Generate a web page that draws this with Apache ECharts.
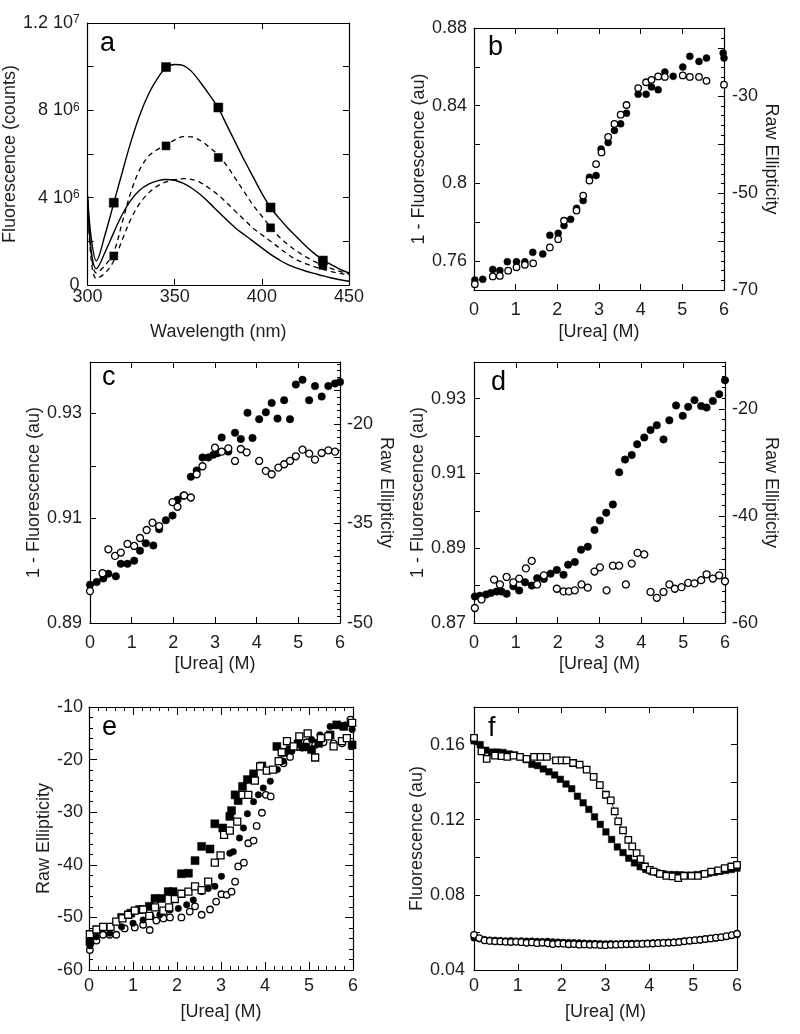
<!DOCTYPE html>
<html>
<head>
<meta charset="utf-8">
<script src="https://cdn.jsdelivr.net/npm/echarts@6/dist/echarts.min.js"></script>
<style>html,body{margin:0;padding:0;background:#fff}#c{width:800px;height:1034px}</style>
</head>
<body>
<div id="c"></div>
<script>
// ---------- Panel a: emission spectra ----------
const aWavelength = [300,302,305,310,315,320,325,330,335,340,345,350,355,360,365,370,375,380,385,390,395,400,405,410,415,420,425,430,435,440,445,450];
const aSolidHigh = [4.1e6,2.2e6,1.1e6,2.3e6,3.75e6,5.2e6,6.6e6,7.8e6,8.75e6,9.45e6,9.95e6,1.01e7,1.005e7,9.75e6,9.25e6,8.7e6,8.1e6,7.3e6,6.5e6,5.7e6,4.95e6,4.2e6,3.55e6,3.05e6,2.6e6,2.2e6,1.8e6,1.45e6,1.15e6,0.92e6,0.72e6,0.55e6];
const aDashHigh = [4.0e6,1.5e6,0.55e6,0.9e6,1.5e6,2.9e6,4.3e6,5.3e6,5.9e6,6.2e6,6.4e6,6.65e6,6.8e6,6.78e6,6.6e6,6.3e6,5.95e6,5.45e6,4.85e6,4.25e6,3.65e6,3.15e6,2.65e6,2.2e6,1.85e6,1.55e6,1.3e6,1.08e6,0.9e6,0.75e6,0.62e6,0.5e6];
const aSolidLow = [3.9e6,1.6e6,0.75e6,1.5e6,2.4e6,3.25e6,3.9e6,4.35e6,4.62e6,4.77e6,4.83e6,4.8e6,4.65e6,4.42e6,4.12e6,3.75e6,3.35e6,2.97e6,2.6e6,2.3e6,2.0e6,1.7e6,1.4e6,1.15e6,0.93e6,0.77e6,0.64e6,0.53e6,0.42e6,0.32e6,0.24e6,0.17e6];
const aDashLow = [3.8e6,1.2e6,0.3e6,0.55e6,1.1e6,2.1e6,3.05e6,3.75e6,4.22e6,4.53e6,4.72e6,4.82e6,4.87e6,4.83e6,4.68e6,4.42e6,4.12e6,3.75e6,3.36e6,2.98e6,2.6e6,2.3e6,2.0e6,1.7e6,1.4e6,1.15e6,0.98e6,0.84e6,0.72e6,0.61e6,0.53e6,0.46e6];
const aMarkX = [315,345,375,405,435];
const aMarkHigh = [3.77e6,9.98e6,8.13e6,3.55e6,1.12e6];
const aMarkLow = [1.33e6,6.37e6,5.84e6,2.62e6,0.9e6];

// ---------- Panel b ----------
const bFillX = [0.02,0.21,0.45,0.62,0.80,1.02,1.22,1.41,1.65,1.82,2.02,2.16,2.32,2.46,2.62,2.77,2.93,3.05,3.22,3.37,3.52,3.66,3.94,4.13,4.26,4.42,4.58,4.78,5.01,5.18,5.40,5.58,5.98,6.0];
const bFillY = [0.7501,0.7505,0.7556,0.7550,0.7596,0.7596,0.7596,0.7644,0.7636,0.7732,0.7742,0.7782,0.7814,0.7871,0.7911,0.8031,0.8040,0.8176,0.8210,0.8272,0.8306,0.8361,0.8459,0.8459,0.8496,0.8482,0.8573,0.8551,0.8599,0.8654,0.8628,0.8645,0.8671,0.8645];
const bOpenX = [0.02,0.45,0.62,0.82,1.02,1.22,1.42,1.82,2.02,2.16,2.46,2.62,2.77,2.93,3.06,3.22,3.37,3.52,3.66,3.94,4.13,4.26,4.42,4.58,5.01,5.18,5.40,5.58,6.0];
const bOpenY = [-68.8,-67.2,-67.1,-66.0,-65.3,-64.8,-64.5,-61.2,-59.5,-55.7,-53.6,-50.5,-47.4,-44.0,-41.6,-38.4,-35.7,-33.8,-31.8,-28.3,-27.1,-26.6,-25.9,-26.0,-25.7,-26.0,-26.0,-26.8,-27.6];

// ---------- Panel c ----------
const cFillX = [0,0.16,0.32,0.44,0.62,0.74,0.90,1.06,1.20,1.34,1.52,1.66,1.82,1.98,2.10,2.24,2.42,2.56,2.70,2.84,2.96,3.06,3.16,3.32,3.48,3.62,3.78,3.90,4.06,4.22,4.36,4.50,4.66,4.80,4.94,5.10,5.26,5.40,5.56,5.72,5.88,6.0];
const cFillY = [0.8973,0.8978,0.8985,0.8994,0.8989,0.9013,0.9013,0.9019,0.9038,0.9052,0.9048,0.9079,0.9096,0.9105,0.9135,0.9143,0.9179,0.9191,0.9216,0.9216,0.9221,0.9224,0.9254,0.9227,0.9263,0.9251,0.9301,0.9253,0.9289,0.9302,0.9320,0.9290,0.9325,0.9289,0.9355,0.9364,0.9325,0.9352,0.9332,0.9352,0.9357,0.9360];
const cOpenX = [0,0.30,0.44,0.60,0.74,0.90,1.06,1.20,1.36,1.50,1.66,1.98,2.10,2.26,2.42,2.56,2.70,3.00,3.16,3.32,3.48,3.62,3.76,4.06,4.22,4.36,4.52,4.66,4.80,4.94,5.10,5.26,5.40,5.56,5.72,5.88];
const cOpenY = [-45.2,-42.5,-38.9,-39.9,-39.4,-38.1,-38.4,-37.2,-36.0,-34.9,-35.4,-31.8,-32.5,-30.8,-31.1,-27.6,-26.4,-23.6,-24.2,-23.7,-25.6,-23.8,-24.3,-25.6,-27.1,-27.6,-26.6,-26.1,-25.6,-24.9,-23.9,-24.5,-25.4,-24.4,-24.0,-24.2];

// ---------- Panel d ----------
const dFillX = [0.02,0.14,0.29,0.40,0.54,0.66,0.78,0.94,1.08,1.22,1.38,1.51,1.67,1.83,1.98,2.14,2.25,2.41,2.56,2.72,2.88,3.01,3.16,3.32,3.47,3.61,3.77,3.90,4.07,4.22,4.37,4.53,4.67,4.83,4.99,5.12,5.27,5.43,5.56,5.71,5.86,6.0];
const dFillY = [0.8771,0.8773,0.8776,0.8780,0.8784,0.8784,0.8778,0.8798,0.8787,0.8809,0.8800,0.8820,0.8818,0.8832,0.8842,0.8829,0.8856,0.8863,0.8896,0.8904,0.8949,0.8974,0.8995,0.9017,0.9103,0.9137,0.9149,0.9178,0.9196,0.9216,0.9229,0.9191,0.9242,0.9282,0.9254,0.9278,0.9296,0.9280,0.9276,0.9294,0.9312,0.9349];
const dOpenX = [0.02,0.18,0.48,0.62,0.78,0.94,1.08,1.24,1.38,1.51,1.67,1.98,2.14,2.27,2.41,2.57,2.72,2.88,3.01,3.17,3.32,3.47,3.63,3.77,3.91,4.07,4.22,4.37,4.53,4.67,4.80,4.96,5.12,5.27,5.43,5.56,5.71,5.86,6.0];
const dOpenY = [-57.2,-55.6,-51.9,-52.8,-51.4,-52.4,-51.7,-49.8,-48.4,-52.8,-51.1,-53.6,-54.1,-54.1,-53.9,-52.8,-53.4,-50.4,-49.6,-53.9,-49.3,-49.3,-52.8,-48.9,-46.9,-47.2,-54.2,-55.3,-54.2,-52.8,-53.6,-53.3,-52.5,-52.6,-52.0,-50.9,-51.7,-51.1,-52.2];

// ---------- Panel e ----------
const eFsqX = [0.02,0.74,0.95,1.15,1.37,1.50,1.65,1.80,1.91,2.10,2.26,2.41,2.56,2.75,2.86,3.04,3.20,3.24,3.32,3.39,3.49,3.60,3.74,3.93,4.27,4.42,4.57,4.75,4.90,5.06,5.22,5.48,5.63,5.79,5.98];
const eFsqY = [-54.6,-50.0,-49.2,-48.5,-47.9,-46.4,-46.4,-45.1,-45.1,-41.7,-41.6,-39.2,-36.5,-37.0,-32.2,-33.0,-30.8,-29.7,-26.7,-27.8,-25.1,-23.8,-22.7,-21.2,-17.5,-18.6,-18.1,-17.0,-17.6,-18.1,-16.9,-15.3,-13.4,-13.7,-17.2];
const eOsqX = [0.02,0.17,0.32,0.49,0.62,0.76,0.89,1.04,1.23,1.37,1.50,1.69,1.82,1.95,2.10,2.26,2.41,2.56,2.71,2.86,2.99,3.07,3.20,3.37,3.49,3.62,3.77,3.89,4.04,4.18,4.31,4.38,4.50,4.65,4.78,4.97,5.14,5.27,5.44,5.56,5.75,5.86,5.98];
const eOsqY = [-53.2,-52.3,-51.8,-51.8,-50.8,-50.2,-49.5,-48.7,-48.5,-49.7,-48.1,-48.7,-48.1,-46.5,-45.5,-45.1,-44.1,-44.8,-43.2,-39.6,-38.2,-34.3,-33.5,-31.8,-26.7,-26.7,-24.0,-21.3,-22.1,-21.9,-20.3,-18.6,-16.5,-17.5,-15.6,-15.0,-19.6,-15.9,-15.6,-17.5,-16.5,-15.9,-13.0];
const eFciX = [0.02,0.17,0.47,0.74,1.00,1.23,1.41,1.61,1.84,2.03,2.22,2.37,2.56,2.71,2.86,3.01,3.20,3.28,3.42,3.51,3.60,3.74,3.85,3.96,4.12,4.28,4.42,4.61,4.84,5.06,5.25,5.48,5.63,5.82,5.98];
const eFciY = [-55.4,-53.7,-53.0,-51.8,-51.1,-50.5,-49.8,-49.5,-48.6,-48.3,-47.6,-46.7,-45.1,-44.5,-44.1,-42.2,-37.8,-37.5,-34.9,-33.0,-30.3,-28.0,-26.7,-25.4,-24.1,-21.9,-20.3,-18.4,-17.8,-16.2,-15.3,-13.7,-13.4,-13.4,-14.3];
const eOciX = [0.02,0.17,0.32,0.47,0.62,0.81,1.04,1.23,1.38,1.53,1.69,1.84,2.10,2.29,2.41,2.56,2.75,2.89,3.01,3.13,3.24,3.32,3.39,3.52,3.62,3.74,3.81,3.93,4.02,4.13,4.42,4.57,4.76,4.95,5.14,5.33,5.56,5.75,5.94];
const eOciY = [-56.2,-54.4,-53.3,-53.3,-53.3,-52.1,-51.9,-51.4,-52.4,-50.6,-50.2,-50.0,-50.0,-48.9,-47.9,-49.5,-48.5,-47.0,-45.6,-45.7,-45.1,-43.2,-40.3,-39.6,-35.9,-35.4,-32.6,-30.1,-26.7,-27.0,-20.7,-19.5,-17.6,-16.7,-17.2,-16.7,-16.9,-16.9,-12.4];

// ---------- Panel f ----------
const fFsqX = [0.0,0.14,0.27,0.40,0.53,0.66,0.80,0.93,1.06,1.19,1.32,1.45,1.58,1.71,1.84,1.97,2.10,2.23,2.36,2.49,2.62,2.75,2.88,3.01,3.14,3.27,3.40,3.53,3.66,3.79,3.92,4.05,4.18,4.31,4.44,4.57,4.70,4.83,4.96,5.09,5.22,5.35,5.48,5.61,5.74,5.87,6.0];
const fFsqY = [0.162,0.160,0.157,0.156,0.156,0.1558,0.155,0.1545,0.1535,0.152,0.1495,0.1488,0.147,0.1455,0.1438,0.1415,0.139,0.1365,0.1325,0.129,0.1255,0.1215,0.1175,0.1135,0.1095,0.1055,0.1025,0.0995,0.097,0.095,0.0935,0.0925,0.0918,0.0912,0.0908,0.0908,0.0907,0.0905,0.0905,0.0908,0.091,0.0915,0.092,0.0925,0.093,0.0935,0.0942];
const fOsqX = [0,0.17,0.29,0.48,0.63,0.76,0.90,1.05,1.20,1.37,1.52,1.66,1.87,2.00,2.11,2.26,2.41,2.57,2.73,2.87,3.01,3.12,3.21,3.29,3.40,3.52,3.61,3.71,3.80,3.90,4.01,4.10,4.24,4.39,4.53,4.66,4.79,4.96,5.11,5.26,5.41,5.57,5.72,5.87,6.0];
const fOsqY = [0.1636,0.1564,0.1524,0.1541,0.1538,0.1534,0.1541,0.1534,0.1524,0.1534,0.1534,0.1534,0.1516,0.1516,0.1516,0.1502,0.1493,0.1467,0.1428,0.1384,0.1333,0.1303,0.1244,0.1191,0.1143,0.1093,0.1058,0.1022,0.099,0.0951,0.0933,0.0924,0.0912,0.0901,0.0898,0.0889,0.0901,0.0901,0.0901,0.0912,0.0924,0.093,0.0942,0.0951,0.096];
const fCircX = [0,0.12,0.24,0.36,0.48,0.60,0.72,0.84,0.96,1.08,1.20,1.32,1.44,1.56,1.68,1.80,1.92,2.04,2.16,2.28,2.40,2.52,2.64,2.76,2.88,3.00,3.12,3.24,3.36,3.48,3.60,3.72,3.84,3.96,4.08,4.20,4.32,4.44,4.56,4.68,4.80,4.92,5.04,5.16,5.28,5.40,5.52,5.64,5.76,5.88,6.00];
const fOciY = [0.0587,0.0570,0.0558,0.0555,0.0553,0.0552,0.0550,0.0549,0.0550,0.0548,0.0545,0.0547,0.0543,0.0545,0.0542,0.0538,0.0541,0.0540,0.0537,0.0538,0.0535,0.0536,0.0534,0.0535,0.0533,0.0532,0.0534,0.0535,0.0536,0.0537,0.0537,0.0538,0.0539,0.0540,0.0541,0.0543,0.0544,0.0545,0.0547,0.0549,0.0553,0.0556,0.0559,0.0561,0.0565,0.0568,0.0572,0.0575,0.0580,0.0586,0.0593];
const fFciY = [0.0570,0.0565,0.0562,0.0560,0.0559,0.0557,0.0556,0.0557,0.0555,0.0556,0.0554,0.0555,0.0553,0.0552,0.0553,0.0550,0.0549,0.0548,0.0547,0.0546,0.0545,0.0544,0.0543,0.0542,0.0541,0.0540,0.0541,0.0540,0.0541,0.0541,0.0542,0.0543,0.0543,0.0544,0.0545,0.0546,0.0547,0.0548,0.0549,0.0551,0.0553,0.0555,0.0557,0.0560,0.0563,0.0566,0.0569,0.0573,0.0577,0.0582,0.0588];

// ---------- Panel text ----------
const panelLetters = ['a','b','c','d','e','f'];
const xTitles = ['Wavelength (nm)','[Urea] (M)','[Urea] (M)','[Urea] (M)','[Urea] (M)','[Urea] (M)'];
const yTitles = ['Fluorescence (counts)','1 - Fluorescence (au)','1 - Fluorescence (au)','1 - Fluorescence (au)','Raw Ellipticity','Fluorescence (au)'];
const rightTitle = 'Raw Ellipticity';

// ---------- layout ----------
const FONT = '"Liberation Sans", Arial, sans-serif';
const TXT = '#1e1e1e';
const FS = 18;
const grids = [
  {left:87, top:23, width:262, height:262},
  {left:474, top:28, width:250, height:262},
  {left:90, top:362, width:250, height:261},
  {left:474, top:362, width:251, height:261},
  {left:89, top:707, width:264, height:263},
  {left:474, top:707, width:263, height:263}
];
const letterPos = [[100,30],[488,34],[102,364],[491,369],[102,714],[488,715]];

function ax(gi, pos, cfg) {
  const base = {
    type:'value', gridIndex:gi, position:pos,
    axisLine:{show:true, onZero:false, lineStyle:{color:'#000', width:1.2}},
    axisTick:{show:true, inside:true, length:6, lineStyle:{color:'#000', width:1}},
    minorTick:{show:false},
    splitLine:{show:false},
    axisLabel:{show:false},
    nameTextStyle:{fontSize:FS, color:TXT, fontFamily:FONT}
  };
  return Object.assign(base, cfg);
}
function lab(margin, formatter, extra) {
  return Object.assign({show:true, fontSize:FS, color:TXT, fontFamily:FONT, margin:margin, formatter:formatter,
    showMinLabel:true, showMaxLabel:true}, extra || {});
}
const minor = (n, len) => ({show:true, splitNumber:n, length:len || 3, lineStyle:{color:'#000', width:1}});
const intFmt = v => String(Math.round(v));
const dec = v => String(+v.toFixed(2));

const xAxes = [], yAxes = [];
// panel a
xAxes.push(ax(0,'bottom',{min:300,max:450,interval:50,axisLabel:lab(3,intFmt),name:xTitles[0],nameLocation:'middle',nameGap:38}));
xAxes.push(ax(0,'top',{min:300,max:450,interval:50}));
const aFmt = v => {
  const r = Math.round(v/1e6);
  if (r === 0) return '0';
  if (r === 4) return '4 10{s|6}';
  if (r === 8) return '8 10{s|6}';
  if (r === 12) return '1.2 10{s|7}';
  return '';
};
yAxes.push(ax(0,'left',{min:0,max:1.2e7,interval:2e6,
  axisLabel:lab(8,aFmt,{rich:{s:{fontSize:12,fontFamily:FONT,color:TXT,verticalAlign:'top',lineHeight:10}}}),
  name:yTitles[0],nameLocation:'middle',nameGap:58,nameRotate:90}));
yAxes.push(ax(0,'right',{min:0,max:1.2e7,interval:2e6}));
// panel b
xAxes.push(ax(1,'bottom',{min:0,max:6,interval:1,axisLabel:lab(11,intFmt),name:xTitles[1],nameLocation:'middle',nameGap:33}));
xAxes.push(ax(1,'top',{min:0,max:6,interval:1}));
yAxes.push(ax(1,'left',{min:0.745,max:0.88,minInterval:0.02,maxInterval:0.02,
  axisLabel:lab(7,v => (Math.round(v*100)%4===0 ? dec(v) : '')),
  name:yTitles[1],nameLocation:'middle',nameGap:44,nameRotate:90}));
yAxes.push(ax(1,'right',{min:-70,max:-15.9,interval:10,minorTick:minor(5,3),
  axisLabel:lab(8,v => (Math.abs(Math.round(v)+70)%20===0 ? intFmt(v) : '')),
  name:rightTitle,nameLocation:'middle',nameGap:37,nameRotate:-90}));
// panel c
xAxes.push(ax(2,'bottom',{min:0,max:6,interval:1,axisLabel:lab(11,intFmt),name:xTitles[2],nameLocation:'middle',nameGap:32}));
xAxes.push(ax(2,'top',{min:0,max:6,interval:1}));
yAxes.push(ax(2,'left',{min:0.89,max:0.9398,interval:0.01,
  axisLabel:lab(8,v => (Math.round(v*100)%2===1 ? dec(v) : '')),
  name:yTitles[2],nameLocation:'middle',nameGap:44,nameRotate:90}));
yAxes.push(ax(2,'right',{min:-50,max:-10.7,interval:5,minorTick:minor(5,3),
  axisLabel:lab(7,v => (Math.abs(Math.round(v)+50)%15===0 ? intFmt(v) : '')),
  name:rightTitle,nameLocation:'middle',nameGap:37,nameRotate:-90}));
// panel d
xAxes.push(ax(3,'bottom',{min:0,max:6,interval:1,axisLabel:lab(11,intFmt),name:xTitles[3],nameLocation:'middle',nameGap:32}));
xAxes.push(ax(3,'top',{min:0,max:6,interval:1}));
yAxes.push(ax(3,'left',{min:0.87,max:0.9398,interval:0.01,
  axisLabel:lab(8,v => (Math.round(v*100)%2===1 ? dec(v) : '')),
  name:yTitles[3],nameLocation:'middle',nameGap:44,nameRotate:90}));
yAxes.push(ax(3,'right',{min:-60,max:-11.25,interval:10,minorTick:minor(5,3),
  axisLabel:lab(7,v => (Math.abs(Math.round(v)+60)%20===0 ? intFmt(v) : '')),
  name:rightTitle,nameLocation:'middle',nameGap:37,nameRotate:-90}));
// panel e
const eTick = {show:true, inside:true, length:8, lineStyle:{color:'#000', width:1}};
xAxes.push(ax(4,'bottom',{min:0,max:6,interval:1,minorTick:minor(5,4),axisTick:eTick,
  axisLabel:lab(7,intFmt),name:xTitles[4],nameLocation:'middle',nameGap:33}));
xAxes.push(ax(4,'top',{min:0,max:6,interval:1,minorTick:minor(5,4),axisTick:eTick}));
yAxes.push(ax(4,'left',{min:-60,max:-10,interval:10,minorTick:minor(5,4),axisTick:eTick,
  axisLabel:lab(6,intFmt),name:yTitles[4],nameLocation:'middle',nameGap:36,nameRotate:90}));
yAxes.push(ax(4,'right',{min:-60,max:-10,interval:10,minorTick:minor(5,4),axisTick:eTick}));
// panel f
xAxes.push(ax(5,'bottom',{min:0,max:6,interval:1,axisLabel:lab(7,intFmt),name:xTitles[5],nameLocation:'middle',nameGap:33}));
xAxes.push(ax(5,'top',{min:0,max:6,interval:1}));
yAxes.push(ax(5,'left',{min:0.04,max:0.18,interval:0.02,
  axisLabel:lab(9,v => (Math.round(v*100)%4===0 ? dec(v).padEnd(4,'0') : '')),
  name:yTitles[5],nameLocation:'middle',nameGap:44,nameRotate:90}));
yAxes.push(ax(5,'right',{min:0.04,max:0.18,interval:0.02}));

const zip = (xs, ys) => xs.map((x,i) => [x, ys[i]]);
function sc(gi, right, xs, ys, symbol, size, filled, z) {
  return {type:'scatter', xAxisIndex:2*gi, yAxisIndex:2*gi+(right?1:0), data:zip(xs,ys),
    symbol:symbol, symbolSize:size, clip:false, silent:true, z:z||3,
    itemStyle: filled ? {color:'#000', borderColor:'#000', borderWidth:0.5, opacity:1}
                      : {color:'#fff', borderColor:'#000', borderWidth:1.3, opacity:1}};
}
function ln(gi, xs, ys, type, width, smooth) {
  return {type:'line', xAxisIndex:2*gi, yAxisIndex:2*gi, data:zip(xs,ys), symbol:'none', showSymbol:false,
    smooth:smooth, silent:true, z:2, lineStyle:{color:'#000', width:width, type:type}};
}

const series = [
  ln(0, aWavelength, aSolidHigh, 'solid', 1.4, 0.35),
  ln(0, aWavelength, aDashHigh, [5,4], 1.3, 0.35),
  ln(0, aWavelength, aSolidLow, 'solid', 1.4, 0.35),
  ln(0, aWavelength, aDashLow, [5,4], 1.3, 0.35),
  sc(0, false, aMarkX, aMarkHigh, 'rect', 9, true, 4),
  sc(0, false, aMarkX, aMarkLow, 'rect', 8, true, 4),

  sc(1, false, bFillX, bFillY, 'circle', 7, true),
  sc(1, true, bOpenX, bOpenY, 'circle', 6.5, false),

  sc(2, false, cFillX, cFillY, 'circle', 7.5, true),
  sc(2, true, cOpenX, cOpenY, 'circle', 7, false),

  sc(3, false, dFillX, dFillY, 'circle', 7.5, true),
  sc(3, true, dOpenX, dOpenY, 'circle', 7, false),

  sc(4, false, eOciX, eOciY, 'circle', 6.5, false, 3),
  sc(4, false, eFciX, eFciY, 'circle', 6.5, true, 4),
  sc(4, false, eFsqX, eFsqY, 'rect', 8, true, 5),
  sc(4, false, eOsqX, eOsqY, 'rect', 7, false, 6),

  ln(5, fFsqX, fFsqY, 'solid', 0.8, 0.3),
  ln(5, fOsqX, fOsqY, 'solid', 0.8, 0.3),
  sc(5, false, fCircX, fFciY, 'circle', 6.5, true, 3),
  sc(5, false, fCircX, fOciY, 'circle', 6.5, false, 4),
  sc(5, false, fFsqX, fFsqY, 'rect', 6.5, true, 5),
  sc(5, false, fOsqX, fOsqY, 'rect', 6.5, false, 6)
];

const graphic = panelLetters.map((t,i) => ({
  type:'text', left:letterPos[i][0], top:letterPos[i][1], silent:true, z:10,
  style:{text:t, fontSize:27, fontFamily:FONT, fill:'#000'}
}));

const chart = echarts.init(document.getElementById('c'), null, {renderer:'canvas'});
chart.setOption({
  animation:false,
  backgroundColor:'#fff',
  textStyle:{fontFamily:FONT},
  grid:grids.map(g => Object.assign({containLabel:false}, g)),
  xAxis:xAxes,
  yAxis:yAxes,
  series:series,
  graphic:graphic
});
</script>
</body>
</html>
